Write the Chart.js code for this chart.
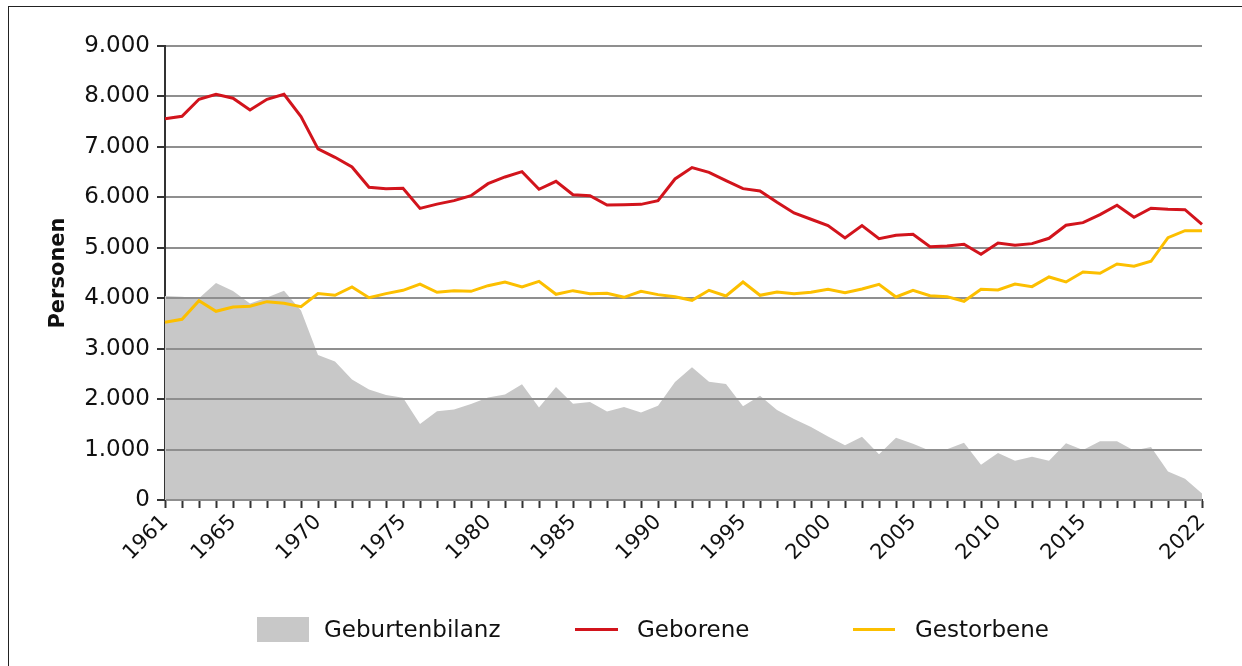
<!DOCTYPE html>
<html lang="de">
  <head>
    <meta charset="UTF-8" />
    <script src="https://cdn.jsdelivr.net/npm/chart.js@4.4.1/dist/chart.umd.min.js"></script>
    <title>Geborene und Gestorbene</title>
    <style>
      body { margin: 0; background: #fff; }
      #wrap { position: relative; width: 1242px; height: 666px; overflow: hidden; font-family: "DejaVu Sans", sans-serif; }
      #frame { position: absolute; left: 8px; top: 6px; width: 1260px; height: 700px; border: 1px solid #222; }
      canvas { position: absolute; left: 0; top: 0; }
      .lg { position: absolute; top: 617px; height: 25px; line-height: 25px; font-size: 23px; color: #111; }
      .box { position: absolute; top: 617px; width: 52px; height: 25px; background: #c8c8c8; }
      .ln { position: absolute; top: 628px; height: 3px; }
    </style>
  </head>
  <body>
    <div id="wrap">
      <div id="frame"></div>
      <canvas id="myChart" width="1242" height="666"></canvas>
      <!-- legend drawn as html, spacing of the original is uneven -->
      <div class="box" style="left:257px"></div>
      <div class="lg" style="left:324px">Geburtenbilanz</div>
      <div class="ln" style="left:575px;width:43px;background:#d2141c"></div>
      <div class="lg" style="left:637px">Geborene</div>
      <div class="ln" style="left:853px;width:42px;background:#fcbf00"></div>
      <div class="lg" style="left:915px">Gestorbene</div>
    </div>
    <script>
      const years = [];
      for (let y = 1961; y <= 2022; y++) years.push(String(y));

      // labelled years on the x axis
      const shownYears = [1961, 1965, 1970, 1975, 1980, 1985, 1990, 1995, 2000, 2005, 2010, 2015, 2022];

      const geborene = [
        7560, 7606, 7944, 8043, 7964, 7732, 7944, 8043, 7600, 6959,
        6794, 6602, 6199, 6172, 6180, 5780, 5865, 5934, 6033, 6271,
        6404, 6509, 6160, 6318, 6053, 6033, 5849, 5855, 5861, 5934,
        6364, 6589, 6496, 6331, 6172, 6126, 5902, 5690, 5565, 5439,
        5194, 5439, 5181, 5247, 5267, 5022, 5036, 5069, 4871, 5095,
        5049, 5082, 5188, 5446, 5498, 5657, 5842, 5604, 5783, 5763,
        5756, 5466
      ];
      const gestorbene = [
        3523, 3582, 3952, 3741, 3826, 3840, 3932, 3899, 3833, 4091,
        4058, 4223, 4011, 4091, 4157, 4279, 4117, 4150, 4137, 4249,
        4322, 4223, 4335, 4078, 4150, 4091, 4097, 4018, 4137, 4071,
        4031, 3959, 4157, 4044, 4322, 4058, 4124, 4091, 4117, 4177,
        4111, 4183, 4276, 4025, 4157, 4051, 4031, 3939, 4177, 4163,
        4282, 4229, 4421, 4322, 4520, 4494, 4679, 4633, 4732, 5201,
        5340, 5340
      ];
      const bilanz = [
        4045, 4030, 4000, 4302, 4145, 3895, 4015, 4147, 3757, 2872,
        2746, 2390, 2191, 2082, 2025, 1505, 1760, 1795, 1905, 2030,
        2090, 2293, 1832, 2240, 1910, 1945, 1755, 1843, 1735, 1870,
        2340, 2630, 2342, 2300, 1857, 2068, 1785, 1606, 1445, 1259,
        1084, 1256, 908, 1236, 1116, 975, 1008, 1137, 700, 932,
        777, 859, 777, 1127, 992, 1163, 1166, 981, 1051, 565,
        423, 129
      ];
      const yTicks = [0, 1000, 2000, 3000, 4000, 5000, 6000, 7000, 8000, 9000];

      const fmt = (v) => String(v).replace(/\B(?=(\d{3})+(?!\d))/g, ".");

      // redraw the horizontal grid on top of the grey area
      const gridOverArea = {
        id: "gridOverArea",
        afterDatasetDraw(chart, args) {
          if (args.index === 0) chart.scales.y.drawGrid(chart.chartArea);
        },
      };

      const ctx = document.getElementById("myChart").getContext("2d");
      const chart = new Chart(ctx, {
        type: "line",
        data: {
          labels: years,
          datasets: [
            {
              label: "Geburtenbilanz",
              data: bilanz,
              fill: "origin",
              backgroundColor: "#c8c8c8",
              borderWidth: 0,
              pointRadius: 0,
              order: 3,
            },
            {
              label: "Geborene",
              data: geborene,
              borderColor: "#d2141c",
              borderWidth: 3,
              pointRadius: 0,
              fill: false,
              order: 1,
            },
            {
              label: "Gestorbene",
              data: gestorbene,
              borderColor: "#fcbf00",
              borderWidth: 3,
              pointRadius: 0,
              fill: false,
              order: 2,
            },
          ],
        },
        options: {
          responsive: false,
          animation: false,
          devicePixelRatio: 1,
          layout: { padding: { left: 8, top: 46, right: 40, bottom: 90 } },
          plugins: { legend: { display: false }, tooltip: { enabled: false } },
          elements: { line: { tension: 0 } },
          scales: {
            x: {
              offset: false,
              grid: { drawOnChartArea: false, drawTicks: true, tickLength: 8, tickColor: "#333", tickWidth: 2 },
              border: { color: "#333", width: 2 },
              ticks: {
                autoSkip: false,
                minRotation: 45,
                maxRotation: 45,
                padding: 2,
                color: "#111",
                font: { family: "DejaVu Sans", size: 21 },
                callback: function (value) {
                  const y = Number(this.getLabelForValue(value));
                  return shownYears.includes(y) ? String(y) : "";
                },
              },
              afterFit: (scale) => { scale.height = 76; },
            },
            y: {
              min: 0,
              max: 9000,
              afterBuildTicks: (scale) => { scale.ticks = yTicks.map((v) => ({ value: v })); },
              grid: { color: "#8f8f8f", lineWidth: 2, tickLength: 8, tickColor: "#333", tickWidth: 2 },
              border: { color: "#333", width: 2 },
              ticks: {
                padding: 7,
                color: "#111",
                font: { family: "DejaVu Sans", size: 23 },
                callback: (v) => fmt(v),
              },
              title: {
                display: true,
                text: "Personen",
                color: "#111",
                font: { family: "DejaVu Sans", size: 21, weight: "bold" },
                padding: { top: 38, bottom: 0 },
              },
              afterFit: (scale) => { scale.width = 157; },
            },
          },
        },
        plugins: [gridOverArea],
      });
    </script>
  </body>
</html>
